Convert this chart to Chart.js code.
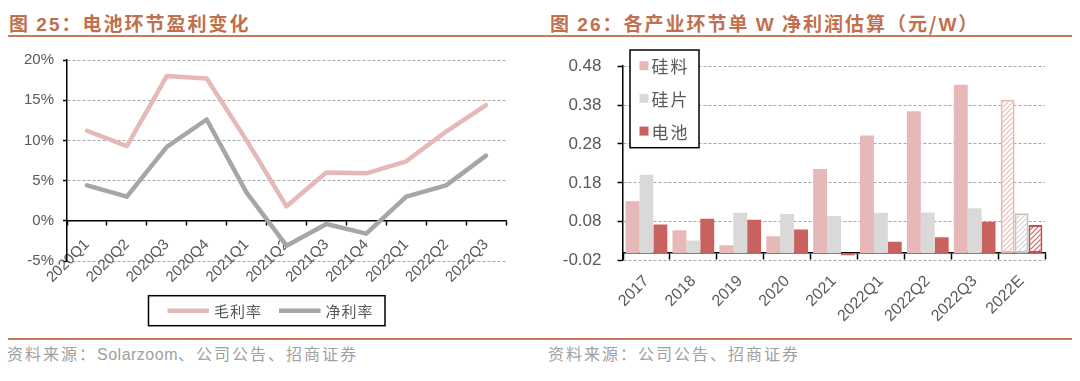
<!DOCTYPE html>
<html><head><meta charset="utf-8">
<script src="https://cdn.jsdelivr.net/npm/chart.js@4.4.1/dist/chart.umd.min.js"></script>
<style>
html,body{margin:0;padding:0;background:#fff;}
body{width:1080px;height:381px;position:relative;overflow:hidden;font-family:"Noto Sans CJK SC","Liberation Sans",sans-serif;}
.title{position:absolute;top:12px;font-size:19px;line-height:21px;font-weight:bold;color:#c0704d;letter-spacing:2px;white-space:nowrap;}
.num{font-family:"Liberation Sans",Arial,sans-serif;}
.rule{position:absolute;left:8px;width:1064px;height:2px;background:#c87a5a;}
.src{position:absolute;top:344px;font-size:16px;line-height:18px;color:#a0a0a0;letter-spacing:2px;white-space:nowrap;}
.box{position:absolute;top:40px;width:540px;height:295px;}
canvas{display:block;}
</style></head>
<body>
<div class="title" style="left:9px">图 <span class="num">25</span>：电池环节盈利变化</div>
<div class="title" style="left:550px">图 <span class="num">26</span>：各产业环节单 <span class="num">W</span> 净利润估算（元/<span class="num">W</span>）</div>
<div class="rule" style="top:35px"></div>
<div class="rule" style="top:338px"></div>
<div class="box" style="left:0"><canvas id="c1" width="540" height="295"></canvas></div>
<div class="box" style="left:540px"><canvas id="c2" width="540" height="295"></canvas></div>
<div class="src" style="left:7px">资料来源：<span class="num" style="letter-spacing:0.5px">Solarzoom</span>、公司公告、招商证券</div>
<div class="src" style="left:548px">资料来源：公司公告、招商证券</div>
<script>
// ---------- data: left chart ----------
const quarters = ['2020Q1','2020Q2','2020Q3','2020Q4','2021Q1','2021Q2','2021Q3','2021Q4','2022Q1','2022Q2','2022Q3'];
const grossMargin = [11.2, 9.3, 18.0, 17.7, 10.0, 1.8, 6.0, 5.9, 7.4, 11.1, 14.4];
const netMargin = [4.4, 3.0, 9.2, 12.6, 3.5, -3.1, -0.4, -1.6, 3.0, 4.4, 8.1];
const leftSeriesNames = ['毛利率', '净利率'];
const leftTicks = [-5, 0, 5, 10, 15, 20];

// ---------- data: right chart ----------
const periods = ['2017','2018','2019','2020','2021','2022Q1','2022Q2','2022Q3','2022E'];
const polysilicon = [0.133, 0.058, 0.020, 0.043, 0.216, 0.302, 0.364, 0.432, 0.394];
const wafer = [0.201, 0.032, 0.103, 0.100, 0.095, 0.103, 0.104, 0.115, 0.102];
const cell = [0.073, 0.088, 0.085, 0.060, -0.006, 0.029, 0.040, 0.080, 0.072];
const rightSeriesNames = ['硅料', '硅片', '电池'];
const rightTicks = [-0.02, 0.08, 0.18, 0.28, 0.38, 0.48];

const TXT = '#595959';
const NUMFONT = 'Liberation Sans';
const CJK = '"Noto Sans CJK SC"';

function hatch(color){
  const c = document.createElement('canvas');
  c.width = 5; c.height = 5;
  const g = c.getContext('2d');
  g.fillStyle = '#fff'; g.fillRect(0,0,5,5);
  g.strokeStyle = color; g.lineWidth = 1.1;
  g.beginPath();
  g.moveTo(0,5); g.lineTo(5,0);
  g.moveTo(-1,1); g.lineTo(1,-1);
  g.moveTo(4,6); g.lineTo(6,4);
  g.stroke();
  return g.createPattern(c,'repeat');
}

const frameLegend = {
  id:'frameLegend',
  afterDraw(chart, args, o){
    const ctx = chart.ctx;
    ctx.save();
    ctx.fillStyle = '#fff';
    ctx.fillRect(o.x, o.y, o.w, o.h);
    ctx.strokeStyle = '#000'; ctx.lineWidth = 1.5;
    ctx.strokeRect(o.x, o.y, o.w, o.h);
    ctx.font = o.font; ctx.textBaseline = 'middle'; ctx.textAlign = 'left';
    if ('letterSpacing' in ctx) ctx.letterSpacing = o.spacing || '0px';
    let x = o.startX;
    chart.data.datasets.forEach((ds, i) => {
      if (o.mode === 'line') {
        ctx.strokeStyle = ds.borderColor; ctx.lineWidth = ds.borderWidth;
        ctx.beginPath(); ctx.moveTo(x, o.cy); ctx.lineTo(x + o.sample, o.cy); ctx.stroke();
        ctx.fillStyle = TXT;
        const tx = x + o.sample + o.gap;
        ctx.fillText(ds.label, tx, o.cy + 1);
        x = tx + ctx.measureText(ds.label).width + o.itemGap;
      } else {
        const cy = o.cy + i * o.step;
        ctx.fillStyle = ds.legendColor;
        ctx.fillRect(o.startX, cy - o.sq/2, o.sq, o.sq);
        ctx.fillStyle = TXT;
        ctx.fillText(ds.label, o.startX + o.sq + o.gap, cy + 1);
      }
    });
    ctx.restore();
  }
};

Chart.register(frameLegend);

new Chart(document.getElementById('c1'), {
  type: 'line',
  data: {
    labels: quarters,
    datasets: [
      {label: leftSeriesNames[0], data: grossMargin, borderColor: '#e6b9b8', backgroundColor: '#e6b9b8', borderWidth: 4.5, pointRadius: 0, tension: 0, borderJoinStyle: 'round', borderCapStyle: 'round'},
      {label: leftSeriesNames[1], data: netMargin, borderColor: '#a6a6a6', backgroundColor: '#a6a6a6', borderWidth: 4.5, pointRadius: 0, tension: 0, borderJoinStyle: 'round', borderCapStyle: 'round'}
    ]
  },
  options: {
    responsive: false, animation: false, devicePixelRatio: 1,
    layout: {padding: {left: 0, right: 34, top: 20, bottom: 74}},
    plugins: {
      legend: {display: false}, tooltip: {enabled: false},
      frameLegend: {mode: 'line', x: 148.5, y: 255.7, w: 236.5, h: 30, cy: 270.7, startX: 167.5, sample: 41.5, gap: 5, itemGap: 17, font: '15px ' + CJK, spacing: '1px'}
    },
    scales: {
      x: {
        type: 'category', position: {y: 0}, offset: true,
        grid: {offset: true, drawOnChartArea: false, drawTicks: true, tickLength: 4, tickColor: '#000', tickWidth: 1.5},
        border: {color: '#000', width: 1.5},
        ticks: {minRotation: 45, maxRotation: 45, autoSkip: false, padding: 11, color: TXT, font: {family: NUMFONT, size: 15}}
      },
      y: {
        min: leftTicks[0], max: leftTicks[leftTicks.length - 1],
        afterFit(s){ s.width = 67; },
        afterBuildTicks(s){ s.ticks = leftTicks.map(v => ({value: v})); },
        ticks: {padding: 9, color: TXT, font: {family: NUMFONT, size: 15}, callback: v => v + '%'},
        grid: {color: '#a6a6a6', lineWidth: 1, tickLength: 4, tickColor: '#000', tickWidth: 1.5},
        border: {color: '#000', width: 1.5, dash: [3, 2]}
      }
    }
  },
  plugins: []
});

const estimate = i => periods[i].endsWith('E');
function barSet(label, data, color, stripe, edge){
  const pat = hatch(stripe);
  return {
    label, data, legendColor: color,
    backgroundColor: c => estimate(c.dataIndex) ? pat : color,
    borderColor: c => estimate(c.dataIndex) ? edge : color,
    borderWidth: c => estimate(c.dataIndex) ? 2 : 0,
    borderSkipped: false,
    barPercentage: 1, categoryPercentage: 0.89
  };
}

new Chart(document.getElementById('c2'), {
  type: 'bar',
  data: {
    labels: periods,
    datasets: [
      barSet(rightSeriesNames[0], polysilicon, '#e6b9b8', '#e6b9b8', '#e6b9b8'),
      barSet(rightSeriesNames[1], wafer, '#d9d9d9', '#cfcfcf', '#c4c4c4'),
      barSet(rightSeriesNames[2], cell, '#c9625f', '#c9625f', '#c0504d')
    ]
  },
  options: {
    responsive: false, animation: false, devicePixelRatio: 1,
    layout: {padding: {left: 0, right: 35, top: 20.7, bottom: 74.3}},
    plugins: {
      legend: {display: false}, tooltip: {enabled: false},
      frameLegend: {mode: 'box', x: 90, y: 10, w: 69, h: 97.7, cy: 25.7, step: 32.7, startX: 99.5, sq: 9, gap: 3, font: '17px ' + CJK, spacing: '2px'}
    },
    scales: {
      x: {
        type: 'category', position: {y: 0}, offset: true, z: 1,
        grid: {offset: true, drawOnChartArea: false, drawTicks: true, tickLength: 6, tickColor: '#000', tickWidth: 1.5},
        border: {color: '#000', width: 1.5},
        ticks: {minRotation: 45, maxRotation: 45, autoSkip: false, padding: 13, color: TXT, font: {family: NUMFONT, size: 16}}
      },
      y: {
        min: rightTicks[0], max: rightTicks[rightTicks.length - 1],
        afterFit(s){ s.width = 83; },
        afterBuildTicks(s){ s.ticks = rightTicks.map(v => ({value: v})); },
        ticks: {padding: 16, color: TXT, font: {family: NUMFONT, size: 17}, callback: v => Number(v).toFixed(2)},
        grid: {color: '#a6a6a6', lineWidth: 1, tickLength: 5.5, tickColor: '#000', tickWidth: 1.5},
        border: {color: '#000', width: 1.5, dash: [3, 2]}
      }
    }
  }
});
</script>
</body></html>
